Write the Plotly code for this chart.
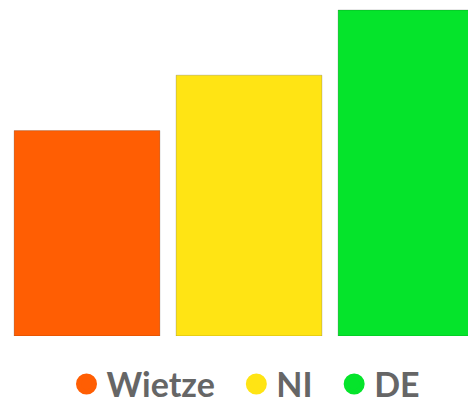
import plotly.graph_objects as go

categories = ["Wietze", "NI", "DE"]
values = [63, 80, 100]
colors = ["#FF5E03", "#FFE414", "#05E42B"]

NB = "\u00a0"

fig = go.Figure()
for cat, val, col in zip(categories, values, colors):
    fig.add_trace(go.Bar(
        x=[cat], y=[val], name=cat, width=0.9,
        marker=dict(color=col, line=dict(color="rgba(0,0,0,0.18)", width=1)),
        showlegend=False,
    ))
for i, (cat, col) in enumerate(zip(categories, colors)):
    pad = NB * 2 if i < len(categories) - 1 else ""
    fig.add_trace(go.Scatter(
        x=[None], y=[None], mode="markers", name=cat + pad,
        marker=dict(symbol="circle", size=16, color=col, line=dict(color=col, width=5)),
    ))

fig.update_layout(
    width=476, height=403,
    margin=dict(l=0, r=0, t=0, b=75, autoexpand=False),
    paper_bgcolor="white", plot_bgcolor="white",
    barmode="overlay",
    xaxis=dict(visible=False, range=[-0.4877, 2.4506], type="category"),
    yaxis=dict(visible=False, range=[0, 100.61]),
    showlegend=True,
    legend=dict(orientation="h", x=0.5, xanchor="center", y=-0.059, yanchor="top",
                font=dict(family="Lato", size=34, color="#666666", weight="bold"),
                itemclick=False),
)
fig.write_html("out.html")
